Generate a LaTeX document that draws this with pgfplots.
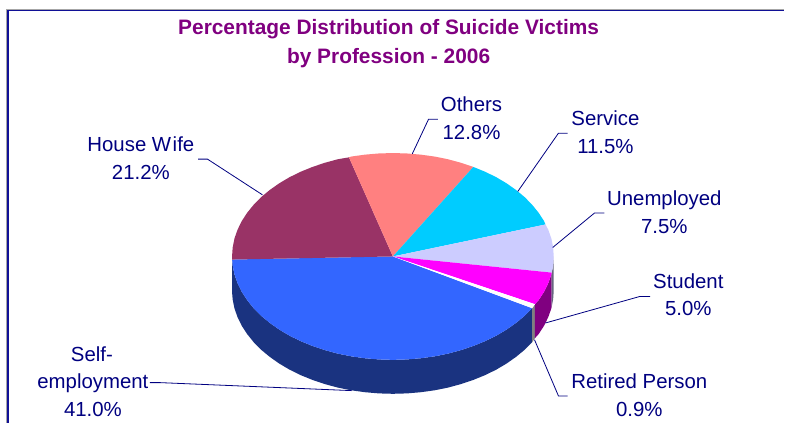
\documentclass[border=0pt]{standalone}
\usepackage{fontspec}
\setmainfont{Liberation Sans}
\usepackage{pgfplots}
\pgfplotsset{compat=1.18}
\definecolor{navytxt}{RGB}{0,0,128}
\definecolor{framec}{RGB}{16,16,150}
\definecolor{titlec}{RGB}{128,0,128}
\definecolor{selfc}{RGB}{51,102,255}
\definecolor{selfs}{RGB}{26,51,128}
\definecolor{housec}{RGB}{153,51,102}
\definecolor{othersc}{RGB}{255,128,128}
\definecolor{servicec}{RGB}{0,204,255}
\definecolor{unempc}{RGB}{204,204,255}
\definecolor{unemps}{RGB}{102,102,128}
\definecolor{studentc}{RGB}{255,0,255}
\definecolor{students}{RGB}{128,0,128}
\tikzset{
  lab/.style={text=navytxt, anchor=base, inner sep=0pt, font=\fontsize{20.4}{24}\selectfont},
  ttl/.style={text=titlec, anchor=base, inner sep=0pt, font=\fontsize{20.9}{24}\selectfont\bfseries},
}
\begin{document}
\begin{tikzpicture}
\begin{axis}[
  scale only axis,
  width=785pt, height=423pt,
  xmin=0, xmax=785, ymin=0, ymax=423,
  y dir=reverse,
  hide axis,
  clip=false,
]
% page size
\path (axis cs:0,0) rectangle (axis cs:785,423);

% frame
\addplot[color=gray!70, line width=0.8pt] coordinates {(6.2,423) (6.2,9.2) (785,9.2)};
\addplot[color=framec, line width=1.6pt] coordinates {(7.8,423) (7.8,10.6) (785,10.6)};

% side faces
\addplot[fill=selfs, draw=none] coordinates {
  (232.4,259.8) (232.9,265.7) (234.7,274.7) (237.8,283.5) (242.0,292.1) (247.4,300.4)
  (253.9,308.5) (261.4,316.1) (270.0,323.2) (279.5,329.9) (289.8,336.0) (301.0,341.5)
  (312.8,346.3) (325.3,350.5) (338.2,354.0) (351.6,356.7) (365.3,358.6) (379.3,359.8)
  (393.3,360.2) (407.3,359.8) (421.3,358.6) (435.0,356.7) (448.4,354.0) (461.3,350.5)
  (473.8,346.3) (485.6,341.5) (496.8,336.0) (507.1,329.9) (516.6,323.2) (525.2,316.1)
  (532.7,308.5)
  (532.7,342.5) (525.2,350.1) (516.6,357.2) (507.1,363.9) (496.8,370.0) (485.6,375.5)
  (473.8,380.3) (461.3,384.5) (448.4,388.0) (435.0,390.7) (421.3,392.6) (407.3,393.8)
  (393.3,394.2) (379.3,393.8) (365.3,392.6) (351.6,390.7) (338.2,388.0) (325.3,384.5)
  (312.8,380.3) (301.0,375.5) (289.8,370.0) (279.5,363.9) (270.0,357.2) (261.4,350.1)
  (253.9,342.5) (247.4,334.4) (242.0,326.1) (237.8,317.5) (234.7,308.7) (232.9,299.7)
  (232.4,293.8)
} -- cycle;
\addplot[fill=gray, draw=none] coordinates {
  (532.7,308.5) (535.5,304.5) (535.5,338.5) (532.7,342.5)
} -- cycle;
\addplot[fill=students, draw=none] coordinates {
  (535.5,304.5) (539.2,300.4) (544.6,292.1) (548.8,283.5) (551.9,274.7) (552.3,272.9)
  (552.3,306.9) (551.9,308.7) (548.8,317.5) (544.6,326.1) (539.2,334.4) (535.5,338.5)
} -- cycle;
\addplot[fill=unemps, draw=none] coordinates {
  (552.3,272.9) (553.7,265.7) (554.3,256.7) (554.3,290.7) (553.7,299.7) (552.3,306.9)
} -- cycle;

% top faces
\addplot[fill=selfc, draw=none] coordinates {
  (393.3,256.7) (532.7,308.5) (525.2,316.1) (516.6,323.2) (507.1,329.9) (496.8,336.0)
  (485.6,341.5) (473.8,346.3) (461.3,350.5) (448.4,354.0) (435.0,356.7) (421.3,358.6)
  (407.3,359.8) (393.3,360.2) (379.3,359.8) (365.3,358.6) (351.6,356.7) (338.2,354.0)
  (325.3,350.5) (312.8,346.3) (301.0,341.5) (289.8,336.0) (279.5,329.9) (270.0,323.2)
  (261.4,316.1) (253.9,308.5) (247.4,300.4) (242.0,292.1) (237.8,283.5) (234.7,274.7)
  (232.9,265.7) (232.4,259.8)
} -- cycle;
\addplot[fill=housec, draw=none] coordinates {
  (393.3,256.7) (232.4,259.8) (232.3,256.7) (232.9,247.7) (234.7,238.7) (237.8,229.9)
  (242.0,221.3) (247.4,213.0) (253.9,205.0) (261.4,197.3) (270.0,190.2) (279.5,183.5)
  (289.8,177.4) (301.0,171.9) (312.8,167.1) (325.3,162.9) (338.2,159.4) (349.3,157.5)
} -- cycle;
\addplot[fill=othersc, draw=none] coordinates {
  (393.3,256.7) (349.3,157.5) (351.6,156.7) (365.3,154.8) (379.3,153.6) (393.3,153.2)
  (407.3,153.6) (421.3,154.8) (435.0,156.7) (448.4,159.4) (461.3,162.9) (473.8,167.1)
} -- cycle;
\addplot[fill=servicec, draw=none] coordinates {
  (393.3,256.7) (473.8,167.1) (485.6,171.9) (496.8,177.4) (507.1,183.5) (516.6,190.2)
  (525.2,197.3) (532.7,205.0) (539.2,213.0) (544.6,221.3) (546.0,224.7)
} -- cycle;
\addplot[fill=unempc, draw=none] coordinates {
  (393.3,256.7) (546.0,224.7) (548.8,229.9) (551.9,238.7) (553.7,247.7) (554.3,256.7)
  (553.7,265.7) (552.3,272.9)
} -- cycle;
\addplot[fill=studentc, draw=none] coordinates {
  (393.3,256.7) (552.3,272.9) (551.9,274.7) (548.8,283.5) (544.6,292.1) (539.2,300.4)
  (535.5,304.5)
} -- cycle;
\addplot[fill=white, draw=none] coordinates {
  (393.3,256.7) (535.5,304.5) (532.7,308.5)
} -- cycle;

% leader lines
\addplot[color=navytxt, line width=0.8pt] coordinates {(198.3,159.3) (207.7,159.3) (262.7,195)};
\addplot[color=navytxt, line width=0.8pt] coordinates {(438.3,119.3) (429,119.3) (412.7,154)};
\addplot[color=navytxt, line width=0.8pt] coordinates {(568.3,133.3) (559,133.3) (518.3,191.7)};
\addplot[color=navytxt, line width=0.8pt] coordinates {(605,213.3) (595,213.3) (553.3,247.7)};
\addplot[color=navytxt, line width=0.8pt] coordinates {(650.7,296.7) (640.7,296.7) (546,323.3)};
\addplot[color=navytxt, line width=0.8pt] coordinates {(568.3,396.3) (559,396.3) (535,340)};
\addplot[color=navytxt, line width=0.8pt] coordinates {(150,383) (160,383) (352,391)};

% title
\node[ttl] at (axis cs:389,35) {Percentage Distribution of Suicide Victims};
\node[ttl] at (axis cs:389,63.3) {by Profession - 2006};

% labels
\node[lab] at (axis cs:472,111.7) {Others};
\node[lab] at (axis cs:472,139.3) {12.8\%};
\node[lab] at (axis cs:606,125.7) {Service};
\node[lab] at (axis cs:606,153.3) {11.5\%};
\node[lab] at (axis cs:665,206) {Unemployed};
\node[lab] at (axis cs:665,233.3) {7.5\%};
\node[lab] at (axis cs:689,289) {Student};
\node[lab] at (axis cs:689,316) {5.0\%};
\node[lab] at (axis cs:640,389.3) {Retired Person};
\node[lab] at (axis cs:640,416.7) {0.9\%};
\node[lab] at (axis cs:141,152) {House W\kern1.5pt ife};
\node[lab] at (axis cs:141,179.7) {21.2\%};
\node[lab] at (axis cs:92,362) {Self-};
\node[lab] at (axis cs:93,389.3) {employment};
\node[lab] at (axis cs:93,416.7) {41.0\%};
\end{axis}
\end{tikzpicture}
\end{document}
